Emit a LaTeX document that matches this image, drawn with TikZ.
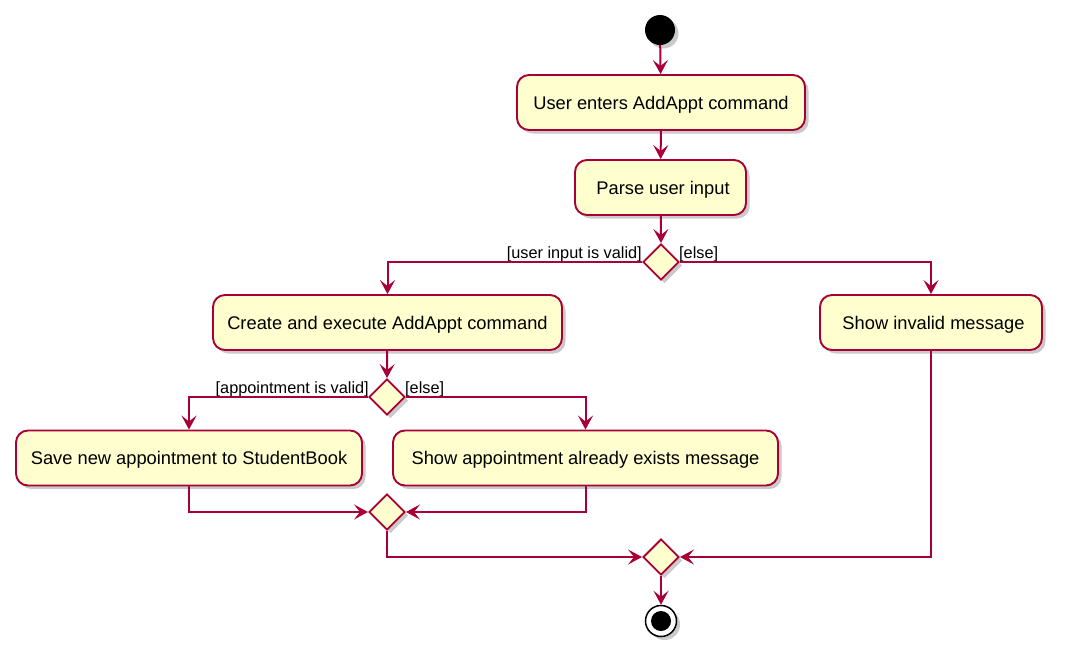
\documentclass[tikz,border=0pt]{standalone}
\usepackage{fontspec}
\setmainfont{Liberation Sans}
\usetikzlibrary{shapes.geometric,arrows.meta,shadows}
\definecolor{umlfill}{HTML}{FEFECE}
\definecolor{umlline}{HTML}{A80036}
\tikzset{
  myshadow/.style={drop shadow={shadow xshift=3.5pt,shadow yshift=-3.5pt,fill=black!35,opacity=0.6}},
  actbox/.style={draw=umlline,fill=umlfill,line width=1.9pt,rounded corners=12pt,
    minimum height=55pt,inner sep=0pt,text depth=0pt,font=\fontsize{18.3}{20}\selectfont,myshadow},
  decision/.style={diamond,draw=umlline,fill=umlfill,line width=1.9pt,
    minimum width=36pt,minimum height=36pt,inner sep=0pt,aspect=1,myshadow},
  guard/.style={font=\fontsize{16.3}{18}\selectfont,inner sep=0pt},
  flow/.style={draw=umlline,line width=2pt,-{Stealth[length=14pt,width=15pt,inset=6pt]}},
  startnode/.style={circle,fill=black,minimum size=30pt,inner sep=0pt,myshadow},
  endnode/.style={circle,draw=black,line width=1.5pt,fill=white,minimum size=31pt,inner sep=0pt,myshadow}
}
\begin{document}
\begin{tikzpicture}[x=1pt,y=-1pt]
\useasboundingbox (0,0) rectangle (1066,662);
\node[startnode] (start) at (660,30) {};
\node[actbox,minimum width=288pt] (b1) at (661,102.5) {User enters AddAppt command};
\node[actbox,minimum width=171pt] (b2) at (660.5,187.5) {\hspace{5pt}Parse user input};
\node[decision] (d1) at (661,262) {};
\node[actbox,minimum width=349pt] (b3) at (387.5,322.5) {Create and execute AddAppt command};
\node[actbox,minimum width=222pt] (b4) at (931,322.5) {\hspace{5pt}Show invalid message};
\node[decision] (d2) at (387,397) {};
\node[actbox,minimum width=346pt] (b5) at (189,458) {Save new appointment to StudentBook};
\node[actbox,minimum width=385pt] (b6) at (585.5,458) {Show appointment already exists message};
\node[decision] (d3) at (387,512) {};
\node[decision] (d4) at (661,557) {};
\node[endnode] (end) at (661,621) {};
\fill (end.center) circle (10pt);

\node[guard,anchor=south east] (g1) at (642,262) {[user input is valid]};
\node[guard,anchor=south west] (g2) at (679,262) {[else]};
\node[guard,anchor=south east] (g3) at (369,397) {[appointment is valid]};
\node[guard,anchor=south west] (g4) at (405,397) {[else]};

\draw[flow] (start) -- (b1);
\draw[flow] (b1) -- (b2);
\draw[flow] (b2) -- (d1.north);
\draw[flow] (d1.west) -| (b3.north);
\draw[flow] (d1.east) -| (b4.north);
\draw[flow] (b3) -- (d2.north);
\draw[flow] (d2.west) -| (b5.north);
\draw[flow] (d2.east) -| (b6.north);
\draw[flow] (b5.south) |- (d3.west);
\draw[flow] (b6.south) |- (d3.east);
\draw[flow] (d3.south) |- (d4.west);
\draw[flow] (b4.south) |- (d4.east);
\draw[flow] (d4.south) -- (end.north);
\end{tikzpicture}
\end{document}
